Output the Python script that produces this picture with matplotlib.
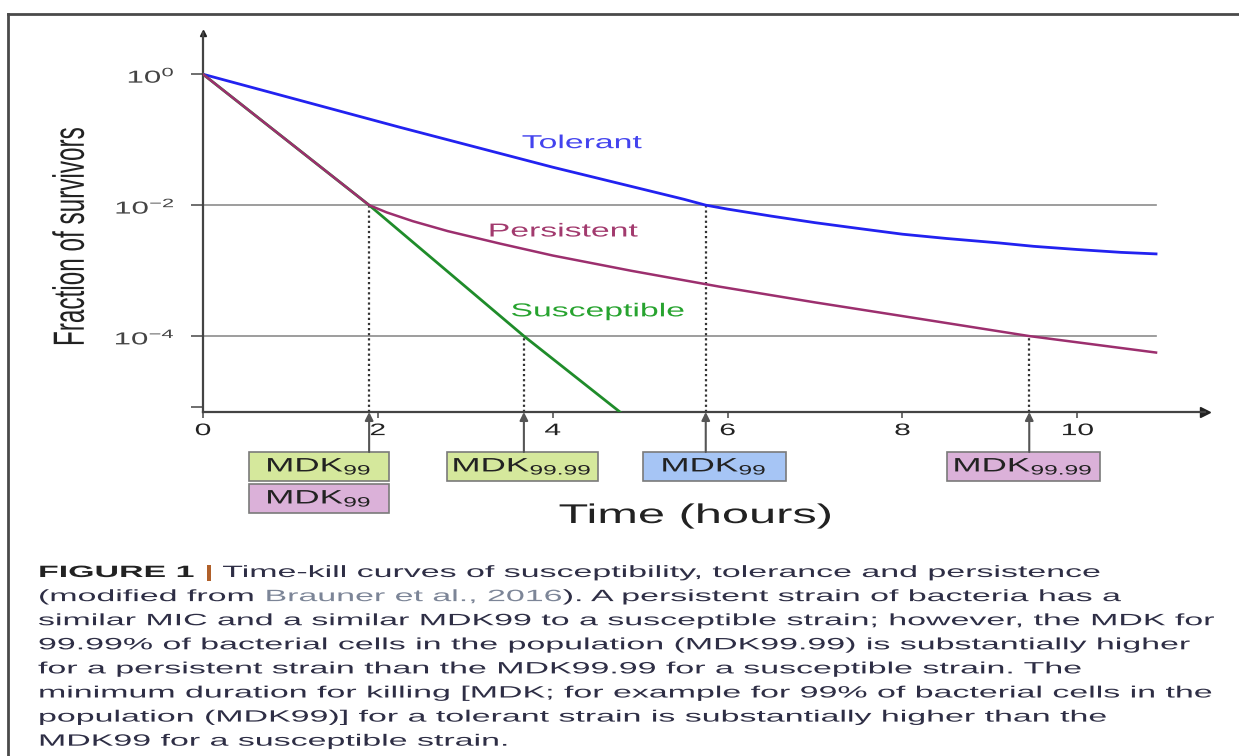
"""Time-kill curves (susceptible / tolerant / persistent) with MDK markers and caption."""

import matplotlib

matplotlib.use("Agg")
import matplotlib.pyplot as plt
import matplotlib.transforms as mtransforms
from matplotlib.lines import Line2D
from matplotlib.patches import Rectangle
from matplotlib.patheffects import AbstractPathEffect

plt.rcParams["font.family"] = ["Liberation Sans", "DejaVu Sans"]
plt.rcParams["mathtext.default"] = "regular"

W, H = 1239, 756
SX = 1.8  # the source picture is stretched sideways, text too
CAPTION_SX = 2.07

# ---- data (time in hours, fraction of survivors) ----
tolerant_t = [0, 2.25, 4.0, 5.5, 5.75, 6.0, 6.5, 7.0, 7.5, 8.0, 8.5, 9.1, 9.5, 10.0, 10.5, 10.9]
tolerant_frac = [1.0, 1.55e-1, 3.8e-2, 1.23e-2, 1.0e-2, 8.7e-3, 6.8e-3, 5.4e-3, 4.4e-3,
                 3.6e-3, 3.1e-3, 2.65e-3, 2.35e-3, 2.1e-3, 1.9e-3, 1.8e-3]

persistent_t = [0, 1.9, 2.1, 2.4, 2.8, 3.4, 4.0, 4.9, 5.9, 7.0, 8.0, 9.45, 10.9]
persistent_frac = [1.0, 1.0e-2, 7.76e-3, 5.69e-3, 4.01e-3, 2.58e-3, 1.70e-3, 9.93e-4,
                   5.71e-4, 3.27e-4, 2.02e-4, 1.0e-4, 5.6e-5]

susceptible_t = [0, 1.9, 3.67, 4.77]
susceptible_frac = [1.0, 1.0e-2, 1.0e-4, 6.9e-6]

mdk_times = [1.9, 3.67, 5.75, 9.45]
mdk_levels = [1e-2, 1e-4, 1e-2, 1e-4]

grid_levels = [1e-2, 1e-4]
grid_end = 10.9

x_ticks = [0, 2, 4, 6, 8, 10]
y_ticks = [1.0, 1e-2, 1e-4, 8.3e-6]
y_tick_labels = ["10$^{0}$", "10$^{-2}$", "10$^{-4}$", ""]

box_labels = ["MDK$_{99}$", "MDK$_{99}$", "MDK$_{99.99}$", "MDK$_{99}$", "MDK$_{99.99}$"]
box_colors = ["#d5e89c", "#dbb1d9", "#d5e89c", "#a6c5f5", "#dbb1d9"]
# left / right edge in hours, row below the axis
box_spans = [(0.53, 2.13), (0.53, 2.13), (2.79, 4.52), (5.03, 6.67), (8.51, 10.26)]
box_rows = [0, 1, 0, 0, 0]

caption_lines = [
    [("FIGURE 1", "bold", "#222222"), (" |", "bold", "#b0602a"),
     (" Time-kill curves of susceptibility, tolerance and persistence", "normal", "#2e2e45")],
    [("(modified from", "normal", "#2e2e45"), (" Brauner et al., 2016", "normal", "#7c8597"),
     ("). A persistent strain of bacteria has a", "normal", "#2e2e45")],
    [("similar MIC and a similar MDK99 to a susceptible strain; however, the MDK for", "normal", "#2e2e45")],
    [("99.99% of bacterial cells in the population (MDK99.99) is substantially higher", "normal", "#2e2e45")],
    [("for a persistent strain than the MDK99.99 for a susceptible strain. The", "normal", "#2e2e45")],
    [("minimum duration for killing [MDK; for example for 99% of bacterial cells in the", "normal", "#2e2e45")],
    [("population (MDK99)] for a tolerant strain is substantially higher than the", "normal", "#2e2e45")],
    [("MDK99 for a susceptible strain.", "normal", "#2e2e45")],
]


class Stretch(AbstractPathEffect):
    """Draw text widened horizontally around its anchor point."""

    def __init__(self, text, sx):
        super().__init__()
        self.text = text
        self.sx = sx

    def draw_path(self, renderer, gc, tpath, affine, rgbFace=None):
        x0 = self.text.get_transform().transform(self.text.get_unitless_position())[0]
        widen_tr = mtransforms.Affine2D().translate(-x0, 0).scale(self.sx, 1).translate(x0, 0)
        renderer.draw_path(gc, tpath, affine + widen_tr, rgbFace)


def widen(text, sx=SX):
    text.set_path_effects([Stretch(text, sx)])
    return text


def fig_xy(px, py):
    """Pixel position from the top-left corner -> figure fraction."""
    return px / W, 1 - py / H


fig = plt.figure(figsize=(W / 100, H / 100), dpi=100)
ax = fig.add_axes([203 / W, 1 - 412 / H, 1002 / W, 379 / H])
ax.patch.set_alpha(0)
ax.set_yscale("log")
ax.set_xlim(0, 11.46)
ax.set_ylim(10 ** -5.16, 10 ** 0.63)

# reference lines
for level in grid_levels:
    ax.plot([0, grid_end], [level, level], color="#8c8c8c", lw=1.2, zorder=1)
for t, level in zip(mdk_times, mdk_levels):
    ax.plot([t, t], [10 ** -5.16, level], color="#333333", lw=1.6,
            linestyle=(0, (1, 1.3)), zorder=2)

# curves
ax.plot(tolerant_t, tolerant_frac, color="#2222f0", lw=2, zorder=3)
ax.plot(susceptible_t, susceptible_frac, color="#1f8c2a", lw=2, zorder=3)
ax.plot(persistent_t, persistent_frac, color="#9c2f6e", lw=1.8, zorder=4)

widen(ax.text(4.33, 10 ** -1.06, "Tolerant", color="#4343ee", fontsize=13.5,
              ha="center", va="center"))
widen(ax.text(4.11, 10 ** -2.41, "Persistent", color="#a23a6e", fontsize=13.5,
              ha="center", va="center"))
widen(ax.text(4.51, 10 ** -3.63, "Susceptible", color="#27a32f", fontsize=13.5,
              ha="center", va="center"))

# axes with arrow heads
for side in ["top", "right"]:
    ax.spines[side].set_visible(False)
for side in ["left", "bottom"]:
    ax.spines[side].set_color("#444444")
    ax.spines[side].set_linewidth(1.6)
ax.plot(1, 0, ">", color="#222222", ms=7, transform=ax.transAxes, clip_on=False)
ax.plot(0, 1, "^", color="#222222", ms=5, transform=ax.transAxes, clip_on=False)

ax.set_xticks(x_ticks)
ax.set_xticklabels([str(v) for v in x_ticks])
ax.tick_params(axis="x", direction="out", length=4, width=1.2, color="#555555",
               labelsize=12, labelcolor="#222222", pad=4)
ax.set_yticks(y_ticks)
ax.set_yticklabels(y_tick_labels)
ax.yaxis.set_minor_locator(matplotlib.ticker.NullLocator())
ax.tick_params(axis="y", direction="out", length=9, width=1.2, color="#555555",
               labelsize=12.5, labelcolor="#444444", pad=10)
for lab in ax.get_xticklabels() + ax.get_yticklabels():
    widen(lab)

# MDK boxes below the axis
blend = mtransforms.blended_transform_factory(ax.transData, ax.transAxes)
row_top = [-0.1055, -0.190]
box_h = 0.0765
for t in mdk_times:
    ax.annotate("", xy=(t, 0), xycoords=blend, xytext=(t, row_top[0]), textcoords=blend,
                arrowprops=dict(arrowstyle="-|>", color="#555555", lw=1.5,
                                mutation_scale=12, shrinkA=0, shrinkB=0))
for label, color, (x0, x1), row in zip(box_labels, box_colors, box_spans, box_rows):
    y0 = row_top[row] - box_h
    ax.add_patch(Rectangle((x0, y0), x1 - x0, box_h, transform=blend, clip_on=False,
                           facecolor=color, edgecolor="#7a7a7a", lw=1.2))
    widen(ax.text((x0 + x1) / 2, y0 + box_h / 2, label, transform=blend, ha="center",
                  va="center", fontsize=14, color="#222222"))

widen(fig.text(*fig_xy(696, 516), "Time (hours)", ha="center", va="center",
               fontsize=19.5, color="#222222"))
widen(fig.text(*fig_xy(73, 237), "Fraction of survivors", rotation=90, ha="center",
               va="center", fontsize=17.5, color="#222222"))

# caption, run by run
renderer = fig.canvas.get_renderer()
for i, runs in enumerate(caption_lines):
    x = 38
    y = 577 + i * 24.1
    for text, weight, color in runs:
        t = widen(fig.text(*fig_xy(x, y), text, ha="left", va="baseline", fontsize=11.8,
                           fontweight=weight, color=color), CAPTION_SX)
        x += t.get_window_extent(renderer).width * CAPTION_SX

# frame of the clipped page
fig.add_artist(Line2D([8 / W, 1], [1 - 14 / H, 1 - 14 / H], transform=fig.transFigure,
                      color="#4a4a4a", lw=2))
fig.add_artist(Line2D([8 / W, 8 / W], [0, 1 - 14 / H], transform=fig.transFigure,
                      color="#4a4a4a", lw=2))

fig.savefig("out.png", dpi=100)
